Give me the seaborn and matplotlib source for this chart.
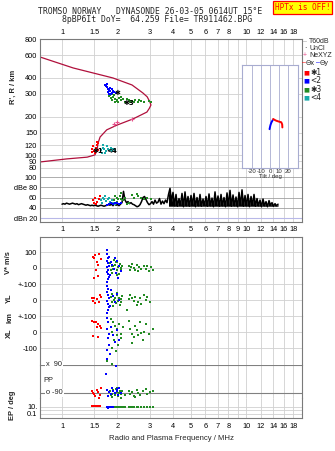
import numpy as np
import pandas as pd
import matplotlib
matplotlib.use("Agg")
import matplotlib.pyplot as plt
import seaborn as sns

# ---------------- data ----------------
FREQ_TICKS = [1, 1.5, 2, 3, 4, 5, 6, 7, 8, 9, 10, 12, 14, 16, 18]
TOP_FREQ_LABELS = ["1", "1.5", "2", "3", "4", "5", "6", "7", "8", "", "10", "12", "14", "16", "18"]
MID_FREQ_LABELS = ["1", "1.5", "2", "3", "4", "5", "6", "7", "8", "9", "10", "12", "14", "16", "18"]
HEIGHT_TICKS = [80, 90, 100, 120, 150, 200, 300, 400, 600, 800]
DB_TICKS = [100, 80, 60, 40, 20]
DB_LABELS = ["100", "dBe 80", "60", "40", "dBn 20"]
TILT_TICKS = [-20, -10, 0, 10, 20]

# plasma frequency profile (MHz, km)
profile_freq = [0.76, 1.15, 1.89, 2.40, 2.75, 2.90, 3.00, 3.04, 2.98, 2.89, 2.43, 1.99,
                1.75, 1.61, 1.57, 1.55, 1.51, 1.37, 1.06, 0.76]
profile_height = [580, 477, 399, 352, 305, 285, 260, 246, 232, 217, 192, 172,
                  158, 139, 125, 110, 101, 97, 94, 89]
nexyz_freq = [1.92, 1.98, 2.39]
nexyz_height = [175, 181, 191]

# ionogram echoes (MHz, km)
iono_red = [(1.46, 112), (1.50, 108), (1.53, 115), (1.55, 120), (1.57, 125), (1.48, 118),
            (1.52, 105), (1.56, 110), (1.45, 107), (1.54, 128)]
iono_cyan = [(1.62, 110), (1.66, 115), (1.70, 112), (1.74, 108), (1.78, 112), (1.82, 110),
             (1.86, 108), (1.90, 112), (1.68, 120), (1.65, 105), (1.76, 118), (1.95, 110),
             (1.72, 104), (1.84, 115)]
iono_blue = [(1.72, 350), (1.75, 340), (1.78, 330), (1.80, 320), (1.83, 315), (1.86, 325),
             (1.77, 310), (1.74, 345), (1.82, 335), (1.88, 305), (1.92, 310), (1.79, 300),
             (1.85, 300), (1.96, 305), (1.76, 355), (1.90, 318)]
iono_green = [(1.80, 290), (1.85, 280), (1.90, 285), (1.95, 275), (2.00, 270), (2.05, 280),
              (1.88, 270), (1.98, 265), (2.10, 268), (2.15, 272), (2.20, 262), (2.30, 270),
              (2.40, 265), (2.50, 268), (2.60, 262), (2.70, 266), (2.80, 262), (2.95, 265),
              (3.05, 262), (1.83, 295), (1.93, 262), (2.02, 258), (2.25, 275), (2.45, 258),
              (1.87, 300), (2.35, 260), (2.62, 270), (1.92, 292), (2.08, 285)]

# echo amplitudes / noise trace (dB)
dbe_noise = [47, 48, 47, 49, 48, 47, 48, 49, 48, 47, 48, 46, 47, 48, 47, 46, 45, 46, 45, 44, 45,
             44, 45, 44, 43, 44, 45, 44, 43, 44, 45,
             46, 45, 47, 44, 48, 45, 46, 44, 47, 50,
             72, 55, 50, 52, 48, 50, 47, 46, 44,
             42, 43, 46, 52, 60, 62, 56, 50, 46,
             48, 52, 47, 55, 49, 51, 58, 47, 53, 48, 55, 50,
             66, 78, 52, 70,
             44, 66, 43, 58, 45, 68, 42, 71, 44, 62,
             43, 64, 45, 68, 42, 60, 44, 66, 43, 57,
             45, 62, 43, 67, 44, 59, 42, 71, 45, 63,
             43, 66, 44, 60, 42, 69, 45, 74, 43, 65,
             44, 61, 42, 70, 45, 75, 43, 64, 44, 66,
             42, 62, 45, 66, 43, 58, 44, 55, 42, 57,
             44, 52, 42, 54, 45, 50, 43, 48, 44, 47]
NOISE_START_MHZ = 1.0
NOISE_STEP_RATIO = 1.01893
NOISE_FLOOR_DB = 43
NOISE_BAND_FROM_MHZ = 3.75
dbe_red = [(1.47, 55), (1.52, 60), (1.55, 52), (1.58, 57), (1.50, 50), (1.60, 62), (1.53, 47)]
dbe_cyan = [(1.62, 56), (1.66, 60), (1.70, 58), (1.74, 54), (1.78, 57), (1.82, 52), (1.86, 55),
            (1.65, 50), (1.72, 62), (1.90, 50), (1.80, 60), (1.95, 48)]
dbe_blue = [(1.80, 48), (1.85, 49), (1.90, 47), (1.95, 50), (2.00, 49), (2.05, 48), (2.10, 50), (1.75, 46)]
dbe_green = [(1.92, 55), (1.98, 60), (2.02, 58), (2.06, 63), (2.10, 57), (2.00, 52), (1.95, 62),
             (2.15, 55), (2.20, 60), (2.30, 50), (2.40, 64), (2.45, 60), (2.55, 66), (2.60, 62),
             (2.70, 60), (2.80, 57), (2.90, 59), (3.05, 58), (2.08, 68), (2.25, 48)]

# tilt inset (deg, km)
tilt_blue = [(-0.5, 160), (0.0, 166), (0.5, 172), (1.5, 180), (3.0, 188)]
tilt_red = [(3.5, 192), (5.0, 189), (7.0, 186), (10.0, 183), (12.5, 181), (13.5, 174), (13.7, 165)]

# V* (m/s)
vstar_red = [(1.47, 70), (1.52, 80), (1.59, 85), (1.62, 55), (1.54, 40), (1.56, 20), (1.53, -10),
             (1.49, -60), (1.56, -50), (1.50, 60)]
vstar_blue = [(1.76, 110), (1.76, 85), (1.78, 60), (1.75, 45), (1.77, 30), (1.79, 15), (1.76, 5),
              (1.78, -10), (1.75, -25), (1.77, -40), (1.80, -55), (1.78, -70), (1.76, -85),
              (1.85, 40), (1.88, 20), (1.92, -5), (1.96, -30), (2.00, 45), (2.05, 10),
              (2.10, -20), (1.95, 60), (1.83, -45), (1.80, 70), (2.02, -60)]
vstar_green = [(1.82, 30), (1.86, 10), (1.90, -5), (1.94, 20), (1.98, -15), (2.02, 5), (2.06, 25),
               (2.10, -10), (1.88, -30), (1.96, 40), (2.04, -35), (2.12, 15), (1.84, -15),
               (1.92, 50), (2.00, -45), (2.08, 0), (2.30, 15), (2.36, 5), (2.40, 25), (2.45, 0),
               (2.50, -10), (2.55, 20), (2.62, 5), (2.70, -5), (2.80, 15), (2.85, -5),
               (2.90, 10), (2.95, -20), (3.05, 5), (3.10, -15), (2.58, -20), (2.33, -15),
               (2.00, 35), (1.90, 15)]
# YL (km)
yl_red = [(1.45, 10), (1.50, 15), (1.55, 5), (1.58, -10), (1.52, -20), (1.60, 30), (1.62, 20), (1.48, -5)]
yl_blue = [(1.76, 90), (1.78, 70), (1.75, 50), (1.77, 30), (1.79, 15), (1.76, -5), (1.78, -25),
           (1.80, -45), (1.77, -60), (1.75, -80), (1.85, 60), (1.90, 25), (1.95, -15),
           (2.00, 40), (2.05, 0), (1.82, -35)]
yl_green = [(1.84, 20), (1.88, 40), (1.92, 0), (1.96, -20), (2.00, 30), (2.04, 10), (2.08, -10),
            (2.12, 25), (1.90, -40), (1.98, 45), (2.06, -30), (1.86, -10), (2.02, -5), (2.10, 5),
            (2.25, -60), (2.35, 30), (2.40, 10), (2.45, -5), (2.50, 20), (2.60, -10),
            (2.65, 15), (2.80, 30), (2.85, 0), (2.90, 20), (3.00, -15), (2.55, -30),
            (2.70, -25), (2.30, 5), (1.94, 15)]
# XL (km)
xl_red = [(1.45, 70), (1.50, 65), (1.53, 60), (1.57, 50), (1.60, 40), (1.55, 30), (1.62, 25),
          (1.47, -25), (1.56, -30)]
xl_blue = [(1.75, 90), (1.78, 60), (1.76, 20), (1.80, -10), (1.77, -40), (1.79, -80),
           (1.76, -110), (1.85, 30), (1.90, -20), (1.95, -60), (2.00, 10), (2.05, -50),
           (1.82, -140), (1.75, -169)]
xl_green = [(1.85, 80), (1.90, 60), (1.95, 40), (2.00, 20), (1.88, 0), (1.98, -20), (2.05, 50),
            (2.10, -10), (1.92, -50), (2.02, -80), (2.08, -40), (1.86, -100), (1.96, -120),
            (2.15, 30), (2.30, 70), (2.35, 20), (2.40, -10), (2.45, -30), (2.50, 40),
            (2.55, 10), (2.60, -20), (2.70, -5), (2.75, -50), (2.80, 0), (2.85, 50),
            (2.95, -15), (3.10, 20), (2.65, 60), (2.40, -70), (1.75, -180), (1.87, -200)]
# PP (deg)
pp_red = [(1.46, -80), (1.50, -95), (1.54, -70), (1.57, -85), (1.60, -100), (1.52, -110),
          (1.62, -60), (1.48, -90), (1.58, -120)]
pp_blue = [(1.76, -70), (1.80, -85), (1.85, -95), (1.90, -80), (1.95, -90), (2.00, -75),
           (2.05, -60), (2.10, -90), (1.78, -110), (1.88, -60), (1.73, 32), (1.96, 84),
           (1.98, -65), (2.02, -100)]
pp_green = [(1.82, -80), (1.86, -95), (1.90, -70), (1.94, -100), (1.98, -85), (2.02, -110),
            (2.06, -75), (2.10, -95), (1.88, -115), (1.96, -65), (2.04, -90), (2.12, -80),
            (1.84, -105), (2.00, -60), (2.08, -120), (2.30, -75), (2.35, -95), (2.40, -85),
            (2.45, -110), (2.55, -70), (2.60, -90), (2.65, -100), (2.75, -80), (2.85, -65),
            (2.90, -95), (3.00, -85), (3.10, -75), (2.50, -115), (2.20, -100)]
# EP (deg)
ep_red = [(1.46, 20), (1.49, 22), (1.52, 20), (1.55, 21), (1.58, 19), (1.61, 20), (1.50, 18), (1.56, 23)]
ep_blue = [(1.76, 9), (1.80, 10), (1.85, 11), (1.90, 10), (1.78, 6)]
ep_green = [(1.82, 10), (1.86, 9), (1.90, 10), (1.94, 9), (1.98, 10), (2.02, 9), (2.06, 10),
            (2.10, 9), (2.20, 10), (2.30, 9), (2.40, 10), (2.45, 9), (2.55, 10), (2.60, 9),
            (2.70, 10), (2.80, 9), (2.90, 10), (3.00, 9), (3.10, 8), (2.15, 8), (2.35, 8)]

# ---------------- style ----------------
sns.set_theme(style="white")
plt.rcParams['font.family'] = ['Liberation Sans', 'DejaVu Sans']
plt.rcParams['axes.linewidth'] = 0.8

RED, BLUE, GREEN, CYAN = "#ff0000", "#0000ff", "#228b22", "#17aaaa"
PROFILE = "#b0103c"
PINK = "#e8508c"
GRID = "#d0d0d0"
SPINE = "#7a7a7a"
TFS = 5.3

W, H = 335, 451
fig = plt.figure(figsize=(W / 100, H / 100), dpi=100)


def ax_px(left, top, right, bottom):
    return fig.add_axes([left / W, 1 - bottom / H, (right - left) / W, (bottom - top) / H])


def df(pairs):
    return pd.DataFrame(pairs, columns=["x", "y"])


def scatter(ax, pairs, color, s=4):
    sns.scatterplot(data=df(pairs), x="x", y="y", color=color, marker="s", s=s,
                    linewidth=0, ax=ax, legend=False, zorder=3, clip_on=False)


def ftext(x, y, s, **kw):
    return fig.text(x / W, 1 - y / H, s, **kw)


XLIM = (0.7596, 20.09)


def freq_axis(ax):
    ax.set_xscale("log")
    ax.set_xlim(*XLIM)
    ax.set_xticks(FREQ_TICKS)
    ax.xaxis.set_minor_locator(matplotlib.ticker.NullLocator())
    for f in FREQ_TICKS:
        ax.axvline(f, color=GRID, lw=0.6, zorder=0)
    ax.set_xlabel("")
    ax.set_ylabel("")
    ax.tick_params(length=0, labelsize=TFS, colors="black")
    for sp in ax.spines.values():
        sp.set_color(SPINE)


# ---------------- ionogram panel ----------------
ax1 = ax_px(40, 39, 302, 174)
freq_axis(ax1)
ax1.set_yscale("log")
ax1.set_ylim(71.8, 800)
ax1.set_yticks(HEIGHT_TICKS)
ax1.set_yticklabels([str(h) for h in HEIGHT_TICKS])
ax1.yaxis.set_minor_locator(matplotlib.ticker.NullLocator())
for h in HEIGHT_TICKS:
    ax1.axhline(h, color=GRID, lw=0.6, zorder=0)
ax1.xaxis.tick_top()
ax1.set_xticklabels(TOP_FREQ_LABELS)
ax1.tick_params(axis="x", pad=2.2)
ax1.tick_params(axis="y", pad=2.0)
ax1.spines["bottom"].set_visible(False)

sns.lineplot(x=profile_freq, y=profile_height, sort=False, estimator=None, color=PROFILE,
             lw=0.9, ax=ax1, zorder=2)
sns.scatterplot(x=nexyz_freq, y=nexyz_height, marker="+", color=PINK, s=10, linewidth=0.8,
                ax=ax1, zorder=3, legend=False)
scatter(ax1, iono_green, GREEN)
scatter(ax1, iono_blue, BLUE)
scatter(ax1, iono_red, RED)
scatter(ax1, iono_cyan, CYAN)
for (fx, hy, lab) in [(2.0, 304, "✱"), (2.32, 256, "✱3"), (1.57, 109, "✱1"), (1.86, 109, "<4")]:
    ax1.text(fx, hy, lab, fontsize=5, color="black", ha="center", va="center",
             fontweight="bold", family=["DejaVu Sans"], zorder=4)
ax1.set_xlabel("")
ax1.set_ylabel("")

# ---------------- dB panel ----------------
ax2 = ax_px(40, 174, 302, 222)
freq_axis(ax2)
ax2.set_ylim(12.2, 105.9)
ax2.set_yticks(DB_TICKS)
ax2.set_yticklabels(DB_LABELS)
for d in DB_TICKS[:-1]:
    ax2.axhline(d, color="#a0a0a0", lw=0.6, zorder=0)
ax2.axhline(20, color="#b8b8e8", lw=0.8, zorder=0)
ax2.set_xticklabels(MID_FREQ_LABELS)
ax2.tick_params(axis="x", pad=3.2)
ax2.tick_params(axis="y", pad=2.0)
ax2.spines["top"].set_visible(False)
noise_freq = NOISE_START_MHZ * NOISE_STEP_RATIO ** np.arange(len(dbe_noise))
noise_db = np.array(dbe_noise, dtype=float)
sns.lineplot(x=noise_freq, y=noise_db, sort=False, estimator=None, color="black", lw=1.1,
             ax=ax2, zorder=2)
band = noise_freq >= NOISE_BAND_FROM_MHZ
ax2.fill_between(noise_freq[band], NOISE_FLOOR_DB, noise_db[band], color="black", lw=0, zorder=2)
scatter(ax2, dbe_green, GREEN)
scatter(ax2, dbe_red, RED)
scatter(ax2, dbe_cyan, CYAN)
scatter(ax2, dbe_blue, BLUE)
ax2.set_xlabel("")
ax2.set_ylabel("")

# ---------------- tilt inset ----------------
axi = ax_px(242, 65, 298, 168)
axi.set_facecolor("white")
axi.set_xlim(-31, 31)
axi.set_yscale("log")
axi.set_ylim(80, 503)
axi.set_yticks([])
axi.yaxis.set_minor_locator(matplotlib.ticker.NullLocator())
axi.set_xticks(TILT_TICKS)
axi.set_xticklabels([str(t) for t in TILT_TICKS])
axi.tick_params(length=0, labelsize=4.3, pad=0.8)
for t in TILT_TICKS:
    axi.axvline(t, color="#a8acd0", lw=0.6, zorder=0)
for sp in axi.spines.values():
    sp.set_color("#a8acd0")
sns.lineplot(data=df(tilt_blue), x="x", y="y", sort=False, estimator=None, color=BLUE, lw=1.4, ax=axi)
sns.lineplot(data=df(tilt_red), x="x", y="y", sort=False, estimator=None, color=RED, lw=1.4, ax=axi)
axi.set_xlabel("Tilt / deg", fontsize=4.3, labelpad=0)
axi.set_ylabel("")

# ---------------- lower block ----------------
LEFT, RIGHT = 40, 302


def sub(top, bottom, ylim, ticks, labels, first=False, last=False, log=False):
    ax = ax_px(LEFT, top, RIGHT, bottom)
    freq_axis(ax)
    if log:
        ax.set_yscale("log")
        ax.yaxis.set_minor_locator(matplotlib.ticker.NullLocator())
    ax.set_ylim(*ylim)
    ax.set_yticks(ticks)
    ax.set_yticklabels(labels)
    ax.tick_params(axis="y", pad=2.0)
    ax.set_facecolor((1, 1, 1, 0))
    if not first:
        ax.spines["top"].set_visible(False)
    if not last:
        ax.spines["bottom"].set_visible(False)
        ax.set_xticklabels([])
    return ax


axv = sub(237, 284, (-100, 193.75), [100, 0], ["100", "0"], first=True)
axy = sub(284, 316, (-100, 100.01), [100, 0], ["+-100", "0"])
axx = sub(316, 365, (-206.25, 100.01), [100, 0, -100], ["+-100", "0", "-100"])
axp = sub(365, 398, (-122.1, 90.01), [], [])
axe = sub(398, 418.3, (0.0059, 3728), [10, 0.1], ["10.", "0.1"], last=True, log=True)
axe.set_xticklabels(TOP_FREQ_LABELS)
axe.tick_params(axis="x", pad=3.2)

for ax, levels in [(axv, [100, 0]), (axy, [100, 0]), (axx, [100, 0, -100]), (axe, [10, 1, 0.1])]:
    for lv in levels:
        ax.axhline(lv, color=GRID, lw=0.6, zorder=0)
for lv in [90, -90]:
    axp.axhline(lv, color="#808080", lw=0.8, zorder=1)

for ax, r, b, g in [(axv, vstar_red, vstar_blue, vstar_green),
                    (axy, yl_red, yl_blue, yl_green),
                    (axx, xl_red, xl_blue, xl_green),
                    (axp, pp_red, pp_blue, pp_green),
                    (axe, ep_red, ep_blue, ep_green)]:
    scatter(ax, g, GREEN)
    scatter(ax, b, BLUE)
    scatter(ax, r, RED)
    ax.set_xlabel("")
    ax.set_ylabel("")

# PP labels sit inside the panel, on the dark reference lines
for yy, lab in [(365, "x  90"), (393, "o -90")]:
    ftext(46, yy, lab, fontsize=TFS, ha="left", va="center", zorder=5,
          bbox=dict(facecolor="white", edgecolor="none", pad=0.6))
ftext(43, 380, "PP", fontsize=TFS, ha="left", va="center")

# ---------------- texts ----------------
mono = dict(family=["DejaVu Sans Mono"], fontsize=5.9, ha="center", va="center")
ftext(150, 12, "TROMSO NORWAY   DYNASONDE 26-03-05 0614UT 15°E", **mono)
ftext(157, 20, "8pBP6It DoY=  64.259 File= TR911462.BPG", **mono)
ftext(302.5, 7.5, "HPTx is OFF!", family=["DejaVu Sans Mono"], fontsize=5.6, ha="center",
      va="center", color="red",
      bbox=dict(facecolor="#ffff00", edgecolor="red", boxstyle="square,pad=0.25", lw=0.9))

bold = dict(fontsize=5.4, fontweight="bold", rotation=90, ha="center", va="center")
ftext(13, 87, "R', R / km", **bold)
ftext(9, 263, "V* m/s", **bold)
ftext(9, 298, "YL", **bold)
ftext(10, 318, "km", **bold)
ftext(9, 333, "XL", **bold)
ftext(12, 405, "EP / deg", **bold)
ftext(171, 438, "Radio and Plasma Frequency / MHz", fontsize=5.6, ha="center", va="center")

# legend
lx = 309
ftext(303, 41.5, "–", color="#a0a0a0", fontsize=5, va="center")
ftext(lx, 41.5, "T60dB", fontsize=5, va="center")
ftext(304.5, 48.5, "·", color="black", fontsize=5, va="center")
ftext(lx, 48.5, "UnCl", fontsize=5, va="center")
ftext(303, 55.5, "+", color=PINK, fontsize=5, va="center")
ftext(lx, 55.5, "NeXYZ", fontsize=5, va="center")
ftext(302.5, 63, "–", color=RED, fontsize=5, va="center")
ftext(306, 63, "Θx", fontsize=4.8, va="center", family=["DejaVu Sans"])
ftext(315.5, 63, "–", color=BLUE, fontsize=5, va="center")
ftext(319.5, 63, "Θy", fontsize=4.8, va="center", family=["DejaVu Sans"])
for yy, col, lab in [(72.5, RED, "✱1"), (80.5, BLUE, "<2"), (89.5, GREEN, "✱3"), (97.5, CYAN, "<4")]:
    ftext(303, yy, "■", color=col, fontsize=4.5, va="center", family=["DejaVu Sans"])
    ftext(lx + 1, yy, lab, fontsize=5.5, va="center", family=["DejaVu Sans"])

fig.savefig("out.png", dpi=100, facecolor="white")
